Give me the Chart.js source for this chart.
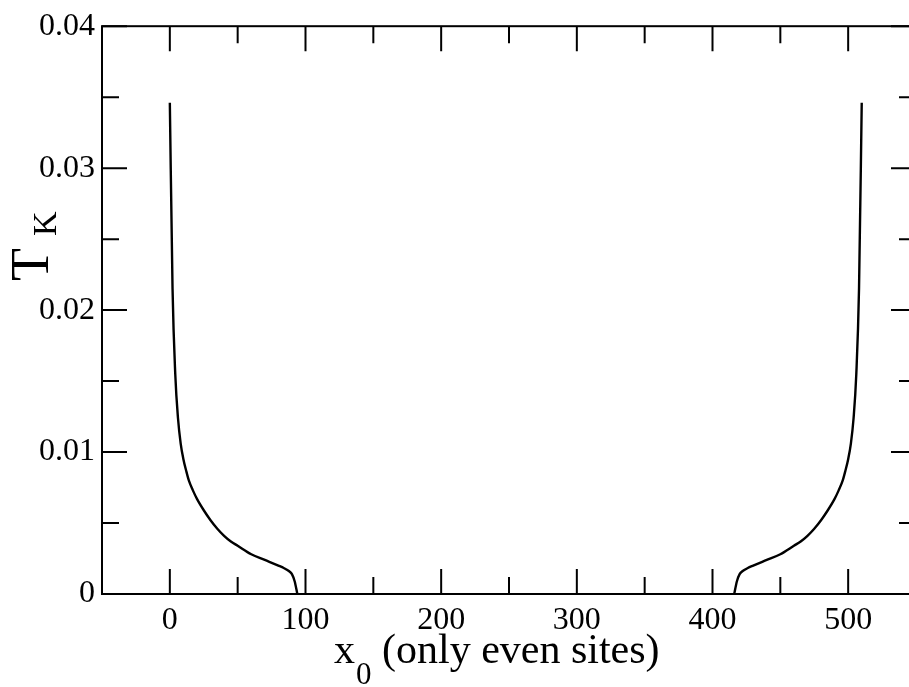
<!DOCTYPE html>
<html>
<head>
<meta charset="utf-8">
<script src="https://cdn.jsdelivr.net/npm/chart.js@4/dist/chart.umd.min.js"></script>
<style>
  html, body { margin: 0; padding: 0; background: #fff; overflow: hidden; }
  #wrap { width: 930px; height: 687px; position: relative; }
</style>
</head>
<body>
<div id="wrap"><canvas id="myCanvas"></canvas></div>
<script>
// tick positions
const xMajor = [0, 100, 200, 300, 400, 500];
const xMinor = [50, 150, 250, 350, 450];
const yMajor = [0, 0.01, 0.02, 0.03, 0.04];
const yMinor = [0.005, 0.015, 0.025, 0.035];

// T_K against impurity site x0, left edge branch
const leftX = [0, 2, 4, 6, 8, 10, 12, 14, 17, 20, 25, 30, 35, 40, 45, 50, 60, 70, 80, 84, 88, 90, 92, 94];
const leftT = [0.0346, 0.0215, 0.0155, 0.0124, 0.0106, 0.0095, 0.0087, 0.0080, 0.0073, 0.0067,
               0.0059, 0.0052, 0.0046, 0.0041, 0.0037, 0.0034, 0.0028, 0.0024, 0.0020, 0.00183,
               0.0016, 0.0014, 0.0009, 0.0];

// right edge branch
const rightX = [416, 418, 420, 422, 426, 430, 440, 450, 460, 465, 470, 475, 480, 485, 490, 493, 496, 498, 500, 502, 504, 506, 508, 510];
const rightT = [0.0, 0.0009, 0.0014, 0.0016, 0.00183, 0.0020, 0.0024, 0.0028, 0.0034, 0.0037,
                0.0041, 0.0046, 0.0052, 0.0059, 0.0067, 0.0073, 0.0080, 0.0087, 0.0095, 0.0106,
                0.0124, 0.0155, 0.0215, 0.0346];

const serif = "'Liberation Serif', 'Times New Roman', serif";

const toPoints = (xs, ys) => xs.map((x, i) => ({ x: x, y: ys[i] }));

// frame box with inward ticks on all four sides, plus the axis titles
const framePlugin = {
  id: 'frame',
  afterDraw(chart) {
    const ctx = chart.ctx;
    const a = chart.chartArea;
    const xs = chart.scales.x, ys = chart.scales.y;
    ctx.save();
    ctx.strokeStyle = '#000';
    ctx.lineWidth = 2;
    ctx.strokeRect(a.left, a.top, a.right - a.left, a.bottom - a.top);

    ctx.beginPath();
    const xt = (v, len) => {
      const p = xs.getPixelForValue(v);
      ctx.moveTo(p, a.bottom); ctx.lineTo(p, a.bottom - len);
      ctx.moveTo(p, a.top); ctx.lineTo(p, a.top + len);
    };
    const yt = (v, len) => {
      const p = ys.getPixelForValue(v);
      ctx.moveTo(a.left, p); ctx.lineTo(a.left + len, p);
      ctx.moveTo(a.right, p); ctx.lineTo(a.right - len, p);
    };
    xMajor.forEach(v => xt(v, 25));
    xMinor.forEach(v => xt(v, 17));
    yMajor.forEach(v => yt(v, 25));
    yMinor.forEach(v => yt(v, 17));
    ctx.stroke();

    // x title: x_0 (only even sites)
    ctx.fillStyle = '#000';
    ctx.textBaseline = 'alphabetic';
    ctx.textAlign = 'left';
    let tx = a.left + 232;
    const by = 663;
    ctx.font = '42px ' + serif;
    ctx.fillText('x', tx, by);
    tx += ctx.measureText('x').width + 1;
    ctx.font = '31px ' + serif;
    ctx.fillText('0', tx, by + 21);
    tx += ctx.measureText('0').width;
    ctx.font = '42px ' + serif;
    ctx.fillText(' (only even sites)', tx, by);

    // y title: T_K, rotated
    ctx.translate(48, 281);
    ctx.rotate(-Math.PI / 2);
    ctx.font = '54px ' + serif;
    ctx.fillText('T', 0, 0);
    const w = ctx.measureText('T').width;
    ctx.font = '34px ' + serif;
    ctx.fillText('K', w + 12, 8);
    ctx.restore();
  }
};

const lineStyle = {
  borderColor: '#000',
  borderWidth: 2.4,
  pointRadius: 0,
  fill: false,
  cubicInterpolationMode: 'monotone'
};

const myChart = new Chart(document.getElementById('myCanvas').getContext('2d'), {
  type: 'line',
  data: {
    datasets: [
      Object.assign({ label: 'left', data: toPoints(leftX, leftT) }, lineStyle),
      Object.assign({ label: 'right', data: toPoints(rightX, rightT) }, lineStyle)
    ]
  },
  options: {
    responsive: true,
    maintainAspectRatio: false,
    animation: false,
    layout: { padding: { top: 24, right: 14, left: 0, bottom: 0 } },
    plugins: {
      legend: { display: false },
      tooltip: { enabled: false }
    },
    scales: {
      x: {
        type: 'linear',
        min: -50,
        max: 550,
        grid: { display: false, drawTicks: false },
        border: { display: false },
        afterBuildTicks: s => { s.ticks = xMajor.map(v => ({ value: v })); },
        afterFit: s => { s.height = 93; },
        ticks: {
          color: '#000',
          padding: 7,
          maxRotation: 0,
          font: { family: serif, size: 32 }
        }
      },
      y: {
        min: 0,
        max: 0.04,
        grid: { display: false, drawTicks: false },
        border: { display: false },
        afterBuildTicks: s => { s.ticks = yMajor.map(v => ({ value: v })); },
        afterFit: s => { s.width = 102; },
        ticks: {
          color: '#000',
          padding: 7,
          font: { family: serif, size: 32 },
          callback: v => v === 0 ? '0' : String(+v.toFixed(2))
        }
      }
    }
  },
  plugins: [framePlugin]
});
</script>
</body>
</html>
